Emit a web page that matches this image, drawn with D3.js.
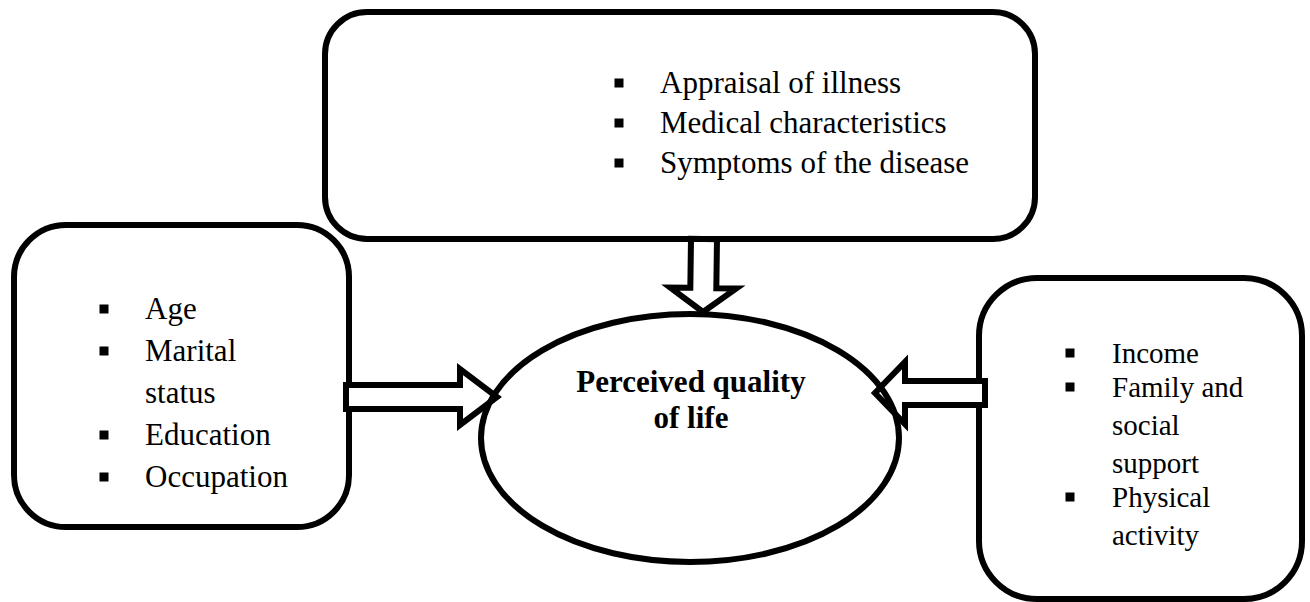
<!DOCTYPE html>
<html>
<head>
<meta charset="utf-8">
<script src="https://cdn.jsdelivr.net/npm/d3@7"></script>
<style>
  html, body { margin: 0; padding: 0; background: #fff; }
  svg { display: block; }
</style>
</head>
<body>
<div id="chart"></div>
<script>
// text content of the diagram
var topItems = ["Appraisal of illness", "Medical characteristics", "Symptoms of the disease"];
var leftItems = [["Age"], ["Marital", "status"], ["Education"], ["Occupation"]];
var rightItems = [["Income"], ["Family and", "social", "support"], ["Physical", "activity"]];
var centerLines = ["Perceived quality", "of life"];

var w = 1310, h = 602;
var sw = 6;
var font = "'Liberation Serif', 'Times New Roman', serif";

var svg = d3.select("#chart").append("svg")
  .attr("width", w)
  .attr("height", h);

svg.append("rect").attr("width", w).attr("height", h).attr("fill", "#fff");

// boxes: x0,y0,x1,y1 are stroke centre lines
var boxes = [
  {x0: 325, y0: 12, x1: 1035, y1: 239, r: 42},
  {x0: 14, y0: 225, x1: 349, y1: 527, r: 52},
  {x0: 979, y0: 278, x1: 1302, y1: 599, r: 58}
];

svg.selectAll("rect.box").data(boxes).enter().append("rect")
  .attr("class", "box")
  .attr("x", function(d) { return d.x0; })
  .attr("y", function(d) { return d.y0; })
  .attr("width", function(d) { return d.x1 - d.x0; })
  .attr("height", function(d) { return d.y1 - d.y0; })
  .attr("rx", function(d) { return d.r; })
  .attr("fill", "#fff")
  .attr("stroke", "#000")
  .attr("stroke-width", sw);

// block arrows, built along a direction vector
function blockArrow(a) {
  // a: start (sx,sy), tip (tx,ty), half shaft, half head, head length
  var dx = a.tx - a.sx, dy = a.ty - a.sy;
  var len = Math.sqrt(dx * dx + dy * dy);
  var ux = dx / len, uy = dy / len;
  var px = -uy, py = ux;
  var bx = a.tx - ux * a.head, by = a.ty - uy * a.head;
  var pts = [
    [a.sx + px * a.shaft, a.sy + py * a.shaft],
    [bx + px * a.shaft, by + py * a.shaft],
    [bx + px * a.wing, by + py * a.wing],
    [a.tx, a.ty],
    [bx - px * a.wing, by - py * a.wing],
    [bx - px * a.shaft, by - py * a.shaft],
    [a.sx - px * a.shaft, a.sy - py * a.shaft]
  ];
  return d3.line()(pts) + "Z";
}

var arrows = [
  {sx: 704, sy: 239, tx: 703, ty: 312, shaft: 13, wing: 33, head: 24},
  {sx: 346, sy: 397, tx: 497, ty: 397, shaft: 12, wing: 28, head: 37},
  {sx: 985, sy: 393, tx: 875, ty: 393, shaft: 12, wing: 31, head: 30}
];

svg.selectAll("path.arrow").data(arrows).enter().append("path")
  .attr("class", "arrow")
  .attr("d", blockArrow)
  .attr("fill", "#fff")
  .attr("stroke", "#000")
  .attr("stroke-width", sw)
  .attr("stroke-linejoin", "miter");

// central ellipse
svg.append("ellipse")
  .attr("cx", 690)
  .attr("cy", 438)
  .attr("rx", 209)
  .attr("ry", 124)
  .attr("fill", "none")
  .attr("stroke", "#000")
  .attr("stroke-width", sw);

svg.append("g").selectAll("text").data(centerLines).enter().append("text")
  .attr("x", 691)
  .attr("y", function(d, i) { return 392 + i * 36; })
  .attr("text-anchor", "middle")
  .attr("font-family", font)
  .attr("font-weight", "bold")
  .attr("font-size", 31)
  .text(function(d) { return d; });

// bulleted lists
function bulletList(items, opt) {
  var rows = [];
  var y = opt.y;
  items.forEach(function(lines, i) {
    if (i > 0) y += opt.gap;
    lines.forEach(function(line, j) {
      rows.push({text: line, y: y, bullet: j === 0});
      if (j < lines.length - 1) y += opt.step;
    });
    y += opt.step;
  });
  var g = svg.append("g");
  g.selectAll("rect").data(rows.filter(function(d) { return d.bullet; }))
    .enter().append("rect")
    .attr("x", opt.bx - opt.bs / 2)
    .attr("y", function(d) { return d.y - opt.bOff - opt.bs / 2; })
    .attr("width", opt.bs)
    .attr("height", opt.bs)
    .attr("fill", "#000");
  g.selectAll("text").data(rows).enter().append("text")
    .attr("x", opt.tx)
    .attr("y", function(d) { return d.y; })
    .attr("font-family", font)
    .attr("font-size", opt.size)
    .text(function(d) { return d.text; });
}

bulletList(topItems.map(function(d) { return [d]; }),
  {y: 93, step: 40, gap: 0, bx: 619, tx: 660, size: 31, bs: 9, bOff: 10});
bulletList(leftItems,
  {y: 319, step: 42, gap: 0, bx: 104, tx: 145, size: 31, bs: 9, bOff: 10});
bulletList(rightItems,
  {y: 363, step: 38, gap: -4, bx: 1070, tx: 1112, size: 29, bs: 9, bOff: 10});
</script>
</body>
</html>
